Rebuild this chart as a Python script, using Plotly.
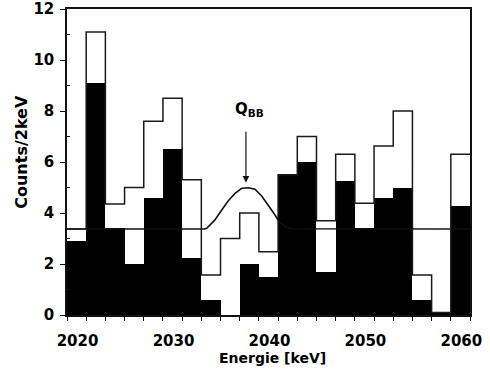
import plotly.graph_objects as go

# 2 keV bins: lower edge of first bin and bin width
first_edge = 2018.9
bin_width = 2.0

# Counts per bin after pulse-shape selection (filled) and full spectrum (outline)
counts_sse = [2.9, 9.1, 3.4, 2.0, 4.6, 6.5, 2.25, 0.57, 0.0, 2.0, 1.5,
              5.5, 6.0, 1.7, 5.25, 3.4, 4.6, 5.0, 0.59, 0.1, 4.27]
counts_all = [3.37, 11.1, 4.35, 5.0, 7.6, 8.5, 5.3, 1.57, 3.0, 4.0, 2.48,
              5.5, 7.0, 3.7, 6.3, 4.38, 6.63, 8.0, 1.57, 0.1, 6.3]

# Fitted background + line around Q_BB
fit_energy = [2018.9, 2033.2, 2033.46, 2034.32, 2035.02, 2035.71, 2036.41,
              2037.11, 2037.80, 2038.49, 2039.19, 2039.88, 2040.58, 2041.0,
              2041.6, 2042.3, 2060.9]
fit_counts = [3.37, 3.37, 3.40, 3.73, 4.12, 4.48, 4.77, 4.97, 4.99, 4.93,
              4.67, 4.31, 3.92, 3.66, 3.48, 3.38, 3.37]

q_bb = 2037.55
x_tick_labels = [2020, 2030, 2040, 2050, 2060]
y_tick_labels = [0, 2, 4, 6, 8, 10, 12]

n_bins = len(counts_sse)
edges = [first_edge + i * bin_width for i in range(n_bins + 1)]
centers = [first_edge + (i + 0.5) * bin_width for i in range(n_bins)]

FONT = "DejaVu Sans"
INK = "#111111"

fig = go.Figure()

fig.add_trace(go.Bar(
    x=centers, y=counts_sse, width=bin_width,
    marker=dict(color="black", line=dict(width=0)),
    hoverinfo="skip",
))

fig.add_trace(go.Scatter(
    x=fit_energy, y=fit_counts, mode="lines",
    line=dict(color=INK, width=1.6),
    hoverinfo="skip",
))

fig.add_trace(go.Scatter(
    x=edges, y=counts_all + [counts_all[-1]], mode="lines",
    line=dict(color="#1a1a1a", width=1.5, shape="hv"),
    hoverinfo="skip",
))

fig.add_annotation(
    x=q_bb, y=5.19, ax=q_bb, ay=7.25, xref="x", yref="y", axref="x", ayref="y",
    showarrow=True, arrowhead=2, arrowsize=1.1, arrowwidth=1.2, arrowcolor=INK, text="",
)
fig.add_annotation(
    x=2037.97, y=8.04, xref="x", yref="y", showarrow=False,
    text="Q<sub>BB</sub>", font=dict(family=FONT, size=15, color="black", weight=700),
)

fig.add_annotation(
    x=0.509, y=-0.14, xref="paper", yref="paper", showarrow=False,
    xanchor="center", yanchor="middle",
    text="Energie [keV]", font=dict(family=FONT, size=14, color="black", weight=700),
)
fig.add_annotation(
    x=-0.112, y=0.533, xref="paper", yref="paper", showarrow=False, textangle=-90,
    xanchor="center", yanchor="middle",
    text="Counts/2keV", font=dict(family=FONT, size=16, color="black", weight=700),
)

fig.update_layout(
    width=490, height=376,
    margin=dict(l=67, r=20, t=9, b=61, autoexpand=False),
    paper_bgcolor="white", plot_bgcolor="white",
    showlegend=False, bargap=0,
    xaxis=dict(
        range=[edges[0], edges[-1]], automargin=False,
        tickvals=x_tick_labels, ticktext=[str(v) for v in x_tick_labels],
        ticks="", showgrid=False, zeroline=False,
        showline=True, linecolor=INK, linewidth=1.5, mirror=True,
        tickfont=dict(family=FONT, size=15, color="black", weight=700),
        ticklabelstandoff=11,
        minor=dict(tickvals=edges, ticks="outside", ticklen=4, tickwidth=1.2,
                   tickcolor=INK, showgrid=False),
    ),
    yaxis=dict(
        range=[0, 12], automargin=False,
        tickvals=y_tick_labels, ticktext=[str(v) for v in y_tick_labels],
        ticks="outside", ticklen=5, tickwidth=1.2, tickcolor=INK,
        showgrid=False, zeroline=False,
        showline=True, linecolor=INK, linewidth=1.5, mirror=True,
        tickfont=dict(family=FONT, size=15, color="black", weight=700),
        ticklabelstandoff=3,
        minor=dict(tickvals=[1, 3, 5, 7, 9, 11], ticks="inside", ticklen=3,
                   tickwidth=1.2, tickcolor=INK, showgrid=False),
    ),
)

fig.write_html("out.html")
